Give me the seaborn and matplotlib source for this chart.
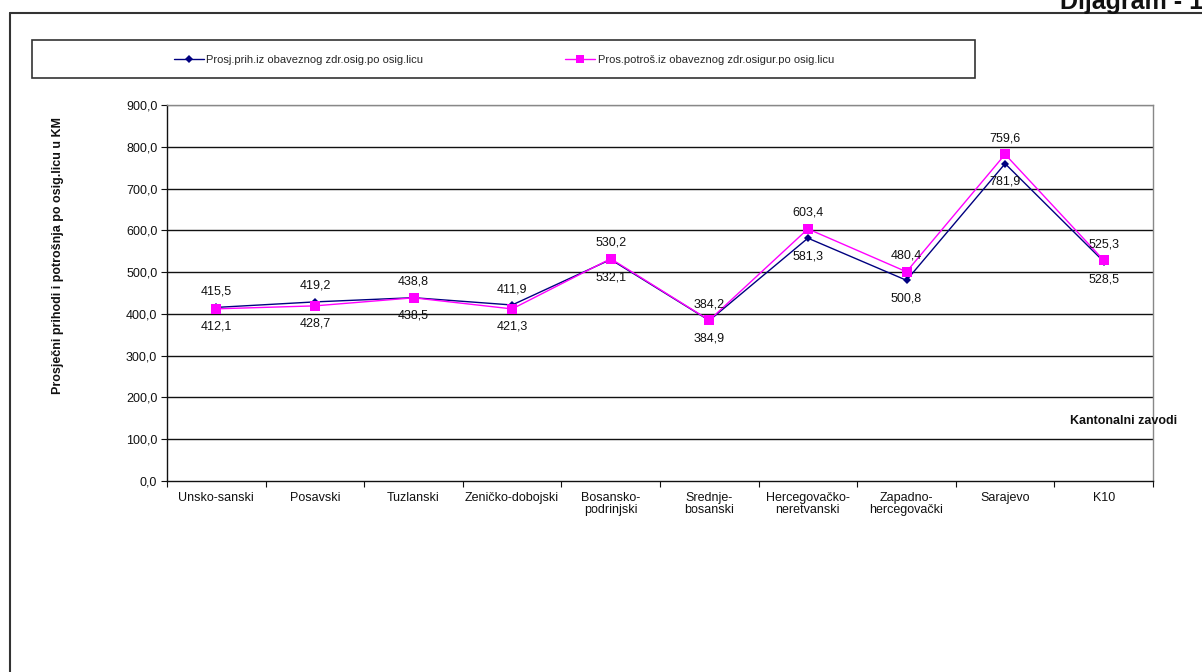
import numpy as np
import pandas as pd
import seaborn as sns
import matplotlib.pyplot as plt
from matplotlib.lines import Line2D
from matplotlib.patches import Rectangle
from matplotlib.ticker import FuncFormatter, FixedLocator

# ----- Data -----
categories = ["Unsko-sanski", "Posavski", "Tuzlanski", "Zeničko-dobojski",
              "Bosansko-\npodrinjski", "Srednje-\nbosanski", "Hercegovačko-\nneretvanski",
              "Zapadno-\nhercegovački", "Sarajevo", "K10"]
prihodi = [415.5, 428.7, 438.8, 421.3, 530.2, 384.2, 581.3, 480.4, 759.6, 525.3]
potrosnja = [412.1, 419.2, 438.5, 411.9, 532.1, 384.9, 603.4, 500.8, 781.9, 528.5]
name_prih = "Prosj.prih.iz obaveznog zdr.osig.po osig.licu"
name_potr = "Pros.potroš.iz obaveznog zdr.osigur.po osig.licu"
y_ticks = [0, 100, 200, 300, 400, 500, 600, 700, 800, 900]

# which side of the pair each data label sits on (as in the original)
side_prih = ["up", "down", "up", "down", "up", "up", "down", "up", "up", "up"]
side_potr = ["down", "up", "down", "up", "down", "down", "up", "down", "down", "down"]

NAVY = "#000080"
MAGENTA = "#FF00FF"

df = pd.DataFrame({
    "pos": list(range(len(categories))) * 2,
    "value": prihodi + potrosnja,
    "series": [name_prih] * len(categories) + [name_potr] * len(categories),
})

sns.set_theme(style="white")
plt.rcParams["font.family"] = ["Liberation Sans", "DejaVu Sans"]

fig = plt.figure(figsize=(12.02, 6.72), dpi=100)
ax = fig.add_axes([167 / 1202, 1 - 481 / 672, 986 / 1202, 376 / 672])

sns.lineplot(
    data=df, x="pos", y="value", hue="series", style="series",
    palette={name_prih: NAVY, name_potr: MAGENTA},
    markers={name_prih: "D", name_potr: "s"},
    dashes=False, sort=False, linewidth=1.0, legend=False, ax=ax,
    markeredgewidth=0,
)
for line, ms in zip(ax.lines, [4.5, 7.5]):
    line.set_markersize(ms)

ax.set_xlim(-0.5, len(categories) - 0.5)
ax.set_ylim(0, 900)
ax.set_xlabel("")
ax.set_ylabel("")

# gridlines
ax.set_yticks(y_ticks)
ax.yaxis.set_major_formatter(FuncFormatter(lambda v, p: f"{v:.1f}".replace(".", ",")))
for yv in y_ticks[1:-1]:
    ax.axhline(yv, color="#111111", lw=1.0, zorder=0)
ax.axhline(900, color="#888888", lw=1.0, zorder=0)

ax.set_xticks(range(len(categories)))
ax.set_xticklabels(categories, fontsize=9, color="#111111", linespacing=1.0)
ax.xaxis.set_minor_locator(FixedLocator(np.arange(-0.5, len(categories), 1.0)))
ax.tick_params(axis="x", which="major", length=0, pad=8)
ax.tick_params(axis="x", which="minor", length=4, width=0.8, color="#111111", direction="out", bottom=True)
ax.tick_params(axis="y", length=4, width=0.8, color="#111111", direction="out", left=True,
               labelsize=9, labelcolor="#111111", pad=3)

for s in ["left", "bottom"]:
    ax.spines[s].set_color("#111111")
    ax.spines[s].set_linewidth(1.0)
for s in ["top", "right"]:
    ax.spines[s].set_color("#888888")
    ax.spines[s].set_linewidth(1.0)

# data labels
for i in range(len(categories)):
    hi = max(prihodi[i], potrosnja[i])
    lo = min(prihodi[i], potrosnja[i])
    for val, side in [(prihodi[i], side_prih[i]), (potrosnja[i], side_potr[i])]:
        if side == "up":
            ax.annotate(f"{val:.1f}".replace(".", ","), (i, hi), xytext=(0, 11.5),
                        textcoords="offset points", ha="center", va="center",
                        fontsize=9, color="#111111")
        else:
            ax.annotate(f"{val:.1f}".replace(".", ","), (i, lo), xytext=(0, -13),
                        textcoords="offset points", ha="center", va="center",
                        fontsize=9, color="#111111")

# axis titles
fig.text(58 / 1202, 1 - 255 / 672, "Prosječni prihodi i potrošnja po osig.licu u KM",
         rotation=90, ha="center", va="center", fontsize=9, fontweight="bold", color="#111111")
fig.text(1070 / 1202, 1 - 421 / 672, "Kantonalni zavodi", ha="left", va="center",
         fontsize=9, fontweight="bold", color="#111111")

# legend box
fig.patches.append(Rectangle((32 / 1202, 1 - 78 / 672), 943 / 1202, 38 / 672,
                             transform=fig.transFigure, fill=False,
                             edgecolor="#333333", linewidth=1.2))
handles = [
    Line2D([], [], color=NAVY, marker="D", markersize=4, markeredgewidth=0, lw=1.0),
    Line2D([], [], color=MAGENTA, marker="s", markersize=6, markeredgewidth=0, lw=1.0),
]
fig.legend(handles, [name_prih, name_potr], loc="center left", ncol=2,
           bbox_to_anchor=(174 / 1202, 1 - 60 / 672), frameon=False, fontsize=8,
           handlelength=2.7, handletextpad=0.2, columnspacing=12.8, borderpad=0,
           borderaxespad=0)

# outer frame and title
fig.add_artist(Line2D([10 / 1202, 10 / 1202], [0, 1 - 13 / 672], transform=fig.transFigure,
                      color="#333333", lw=1.5))
fig.add_artist(Line2D([10 / 1202, 1], [1 - 13 / 672, 1 - 13 / 672], transform=fig.transFigure,
                      color="#333333", lw=1.5))
fig.text(1060 / 1202, 1 - 9 / 672, "Dijagram - 1", ha="left", va="baseline",
         fontsize=18, fontweight="bold", color="#111111")

fig.savefig("out.png", dpi=100, facecolor="white")
